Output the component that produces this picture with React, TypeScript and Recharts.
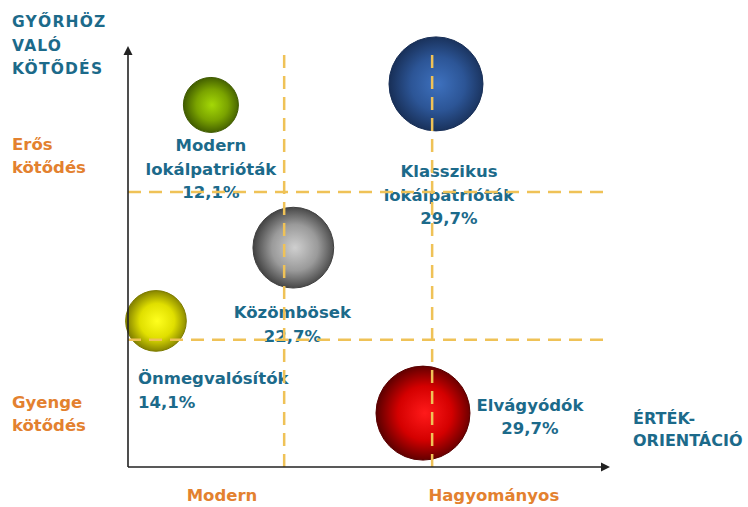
import React from "react";
import {
  ScatterChart, Scatter, XAxis, YAxis, ZAxis, ReferenceLine,
} from "recharts";

// Segments of the Győr attachment / value-orientation map
const SEGMENTS = [
  "Modern\nlokálpatrióták",
  "Klasszikus\nlokálpatrióták",
  "Közömbösek",
  "Önmegvalósítók",
  "Elvágyódók",
];
const SHARE = [12.1, 29.7, 22.7, 14.1, 29.7];
const ORIENTATION = [17.2, 63.9, 34.3, 5.8, 61.2]; // x: modern -> traditional
const ATTACHMENT = [86.0, 91.0, 52.1, 34.7, 12.8]; // y: weak -> strong

const X_DIVIDERS = [32.4, 63.1];
const Y_DIVIDERS = [65.3, 30.2];

const X_TICKS = [19.5, 75.9];
const X_TICK_LABELS = ["Modern", "Hagyományos"];
const Y_TICKS = [73.8, 12.5];
const Y_TICK_LABELS = ["Erős\nkötődés", "Gyenge\nkötődés"];

const FONT = '"DejaVu Sans", sans-serif';
const TEAL = "#1c6a8a";
const ORANGE = "#e3812f";
const DASH = "#efc257";

// inner / mid / outer gradient colours per bubble
const BUBBLE_COLORS = [
  ["#a4d806", "#7aa300", "#3f5a00"],
  ["#3e71be", "#2c5596", "#182f57"],
  ["#cfcfcf", "#9a9a9a", "#404040"],
  ["#ffff1e", "#e0df00", "#7e7c00"],
  ["#ff1a1a", "#d40000", "#5a0000"],
];
// label placement relative to bubble centre: dx, dy of first line, anchor
const LABEL_PLACE: [number, number, "middle" | "start"][] = [
  [0, 41, "middle"],
  [13, 88, "middle"],
  [-1, 65, "middle"],
  [-18, 58, "start"],
  [107, -8, "middle"],
];

const data = SEGMENTS.map((name, i) => ({
  name,
  share: SHARE[i],
  x: ORIENTATION[i],
  y: ATTACHMENT[i],
  idx: i,
}));

const fmt = (v: number) => v.toFixed(1).replace(".", ",") + "%";

function Bubble(props: any) {
  const { cx, cy, width, payload } = props;
  const i = payload.idx;
  const r = width / 2;
  const [inner, mid, outer] = BUBBLE_COLORS[i];
  const [dx, dy, anchor] = LABEL_PLACE[i];
  const lines = [...payload.name.split("\n"), fmt(payload.share)];
  const gid = `bub-${i}`;
  return (
    <g>
      <defs>
        <radialGradient id={gid} cx="52%" cy="50%" r="52%">
          <stop offset="0%" stopColor={inner} />
          <stop offset="55%" stopColor={mid} />
          <stop offset="100%" stopColor={outer} />
        </radialGradient>
      </defs>
      <circle cx={cx} cy={cy} r={r} fill={`url(#${gid})`} stroke={outer} strokeWidth={1} />
      {lines.map((t: string, k: number) => (
        <text
          key={k}
          x={cx + dx}
          y={cy + dy + k * 23.5}
          textAnchor={anchor}
          dominantBaseline="central"
          fontFamily={FONT}
          fontWeight="bold"
          fontSize={16.5}
          fill={TEAL}
        >
          {t}
        </text>
      ))}
    </g>
  );
}

function ArrowLine(props: any) {
  const { x1, y1, x2, y2 } = props;
  const ang = Math.atan2(y2 - y1, x2 - x1);
  const L = 9, W = 4.5;
  const bx = x2 - L * Math.cos(ang), by = y2 - L * Math.sin(ang);
  const px = -Math.sin(ang) * W, py = Math.cos(ang) * W;
  return (
    <g>
      <line x1={x1} y1={y1} x2={bx} y2={by} stroke="#222" strokeWidth={1.6} />
      <polygon points={`${x2},${y2} ${bx + px},${by + py} ${bx - px},${by - py}`} fill="#222" />
    </g>
  );
}

function XTick(props: any) {
  const { x, y, payload } = props;
  const label = X_TICK_LABELS[X_TICKS.indexOf(payload.value)];
  return (
    <text x={x} y={y} textAnchor="middle" dominantBaseline="central"
      fontFamily={FONT} fontWeight="bold" fontSize={16.5} fill={ORANGE}>
      {label}
    </text>
  );
}

function YTick(props: any) {
  const { x, y, payload } = props;
  const label = Y_TICK_LABELS[Y_TICKS.indexOf(payload.value)] || "";
  const lines = label.split("\n");
  return (
    <g>
      {lines.map((t, k) => (
        <text key={k} x={x} y={y - 11.5 + k * 23} textAnchor="start" dominantBaseline="central"
          fontFamily={FONT} fontWeight="bold" fontSize={16.5} fill={ORANGE}>
          {t}
        </text>
      ))}
    </g>
  );
}

export default function App() {
  return (
    <div style={{ position: "absolute", left: 0, top: 0, width: 748, height: 507, background: "#fff" }}>
      <ScatterChart width={748} height={507} margin={{ top: 46, right: 138, bottom: 0, left: 0 }}>
        <XAxis
          type="number" dataKey="x" domain={[0, 100]} ticks={X_TICKS} tick={<XTick />}
          axisLine={false} tickLine={false} tickSize={0} tickMargin={28} height={40}
          interval={0}
        />
        <YAxis
          type="number" dataKey="y" domain={[0, 100]} ticks={Y_TICKS} tick={<YTick />}
          axisLine={false} tickLine={false} tickSize={0} tickMargin={116} width={128}
          interval={0}
        />
        <ZAxis type="number" dataKey="share" domain={[Math.min(...SHARE), Math.max(...SHARE)]} range={[2376, 6940]} />
        <Scatter data={data} shape={<Bubble />} isAnimationActive={false} />
        {X_DIVIDERS.map((v) => (
          <ReferenceLine key={`vx${v}`} segment={[{ x: v, y: 0 }, { x: v, y: 97.9 }]}
            stroke={DASH} strokeWidth={2.5} strokeDasharray="13 8" zIndex={700} />
        ))}
        {Y_DIVIDERS.map((v) => (
          <ReferenceLine key={`hy${v}`} segment={[{ x: 0, y: v }, { x: 99.5, y: v }]}
            stroke={DASH} strokeWidth={2.5} strokeDasharray="13 8" zIndex={700} />
        ))}
        <ReferenceLine segment={[{ x: 0, y: 0 }, { x: 0, y: 100 }]} shape={<ArrowLine />} zIndex={800} />
        <ReferenceLine segment={[{ x: 0, y: 0 }, { x: 100, y: 0 }]} shape={<ArrowLine />} zIndex={800} />
      </ScatterChart>
      <svg width={748} height={507} style={{ position: "absolute", left: 0, top: 0, pointerEvents: "none" }}>
        <g fontFamily={FONT} fontWeight="bold" fill={TEAL}>
          <text x={12} y={22} fontSize={15.5} letterSpacing={1.2} dominantBaseline="central">GYŐRHÖZ</text>
          <text x={12} y={46} fontSize={15.5} letterSpacing={1.2} dominantBaseline="central">VALÓ</text>
          <text x={12} y={69} fontSize={15.5} letterSpacing={1.2} dominantBaseline="central">KÖTŐDÉS</text>
          <text x={633} y={418} fontSize={16} dominantBaseline="central">ÉRTÉK-</text>
          <text x={633} y={440} fontSize={16} dominantBaseline="central">ORIENTÁCIÓ</text>
        </g>
      </svg>
    </div>
  );
}
